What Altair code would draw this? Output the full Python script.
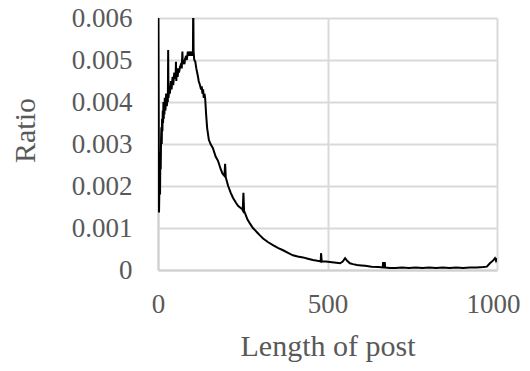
import altair as alt
import pandas as pd

# Rising part (length 1-60)
rise_len = [1, 3, 4, 5, 6, 7, 8, 9, 10, 11,
            12, 13, 14, 15, 16, 17, 18, 19, 20, 22,
            24, 26, 28, 29, 30, 31, 33, 35, 38, 40,
            43, 45, 48, 50, 52, 53, 54, 56, 58, 60]
rise_ratio = [0.0065, 0.00137, 0.0019, 0.0026, 0.0018, 0.0028, 0.0024, 0.0031, 0.0034, 0.0030,
              0.0036, 0.0033, 0.0038, 0.0035, 0.0040, 0.0036, 0.0039, 0.0037, 0.0041, 0.0038,
              0.0042, 0.0039, 0.0041, 0.0040, 0.00524, 0.0041, 0.0043, 0.0042, 0.0045, 0.0043,
              0.0046, 0.0044, 0.0047, 0.00456, 0.0046, 0.00496, 0.0045, 0.0048, 0.0046, 0.0048]

# Peak (length 62-155)
peak_len = [62, 65, 68, 70, 71, 72, 73, 75, 78, 80,
            83, 85, 88, 90, 93, 95, 98, 100, 102, 103,
            104, 105, 107, 110, 113, 115, 118, 120, 124, 127,
            129, 131, 133, 135, 137, 139, 142, 145, 150, 155]
peak_ratio = [0.0047, 0.00484, 0.0049, 0.0048, 0.0050, 0.0052, 0.0049, 0.0050, 0.0049, 0.00503,
              0.0051, 0.0050, 0.0052, 0.0051, 0.0052, 0.0051, 0.0052, 0.0051, 0.0052, 0.0051,
              0.0065, 0.0052, 0.0050, 0.00496, 0.0048, 0.00472, 0.0046, 0.0045, 0.0044, 0.0043,
              0.00437, 0.0042, 0.0043, 0.0041, 0.0042, 0.0041, 0.0037, 0.00338, 0.0031, 0.0030]

# Decay (length 162-483)
decay_len = [162, 170, 177, 185, 190, 196, 198, 200, 207, 214,
             221, 230, 236, 242, 248, 250, 252, 254, 257, 264,
             271, 280, 292, 300, 310, 325, 339, 355, 369, 385,
             398, 412, 428, 442, 457, 470, 478, 480, 481, 483]
decay_ratio = [0.0029, 0.0027, 0.0026, 0.0024, 0.0023, 0.00224, 0.00253, 0.0022, 0.0020, 0.00185,
               0.00172, 0.0016, 0.00153, 0.00149, 0.00145, 0.00142, 0.00184, 0.0014, 0.00135, 0.0012,
               0.00111, 0.0010, 0.0009, 0.00083, 0.00075, 0.00066, 0.00059, 0.00052, 0.00047, 0.0004,
               0.00035, 0.00032, 0.0003, 0.00027, 0.00024, 0.00022, 0.00021, 0.0002, 0.0004, 0.0002]

# Tail (length 495-1000)
tail_len = [495, 507, 520, 537, 545, 552, 558, 566, 575, 587,
            600, 611, 630, 650, 663, 664, 665, 668, 669, 670,
            684, 700, 720, 740, 760, 780, 800, 820, 840, 860,
            880, 900, 920, 940, 960, 970, 979, 985, 990, 994,
            997, 1000]
tail_ratio = [0.0002, 0.00019, 0.00018, 0.00016, 0.0002, 0.00028, 0.00022, 0.00016, 0.00014, 0.00012,
              0.00011, 0.0001, 0.00008, 0.00007, 0.00006, 0.00019, 0.00006, 0.00006, 0.00019, 0.00006,
              0.00005, 0.00005, 0.00006, 0.00005, 0.00006, 0.00005, 0.00006, 0.00005, 0.00006, 0.00005,
              0.00006, 0.00005, 0.00006, 0.00006, 0.00007, 0.00008, 0.00016, 0.0002, 0.00024, 0.00028,
              0.00022, 0.00028]

x_ticks = [0, 500, 1000]
y_ticks = [0, 0.001, 0.002, 0.003, 0.004, 0.005, 0.006]

df = pd.DataFrame({
    "Length of post": rise_len + peak_len + decay_len + tail_len,
    "Ratio": rise_ratio + peak_ratio + decay_ratio + tail_ratio,
})

FONT = "Liberation Serif"
GRAY = "#595959"

chart = alt.Chart(df).mark_line(color="black", strokeWidth=2, clip=True).encode(
    x=alt.X("Length of post:Q",
            scale=alt.Scale(domain=[0, 1000], nice=False),
            axis=alt.Axis(values=x_ticks, format="d", title="Length of post",
                          labelFontSize=27, titleFontSize=30, labelPadding=21,
                          labelFlush=False, labelOverlap=False,
                          labelOffset=alt.ExprRef("datum.value == 1000 ? -4 : 0"),
                          titleFontWeight="normal", titlePadding=14)),
    y=alt.Y("Ratio:Q",
            scale=alt.Scale(domain=[0, 0.006], nice=False),
            axis=alt.Axis(values=y_ticks, format="~g", title="Ratio",
                          labelFontSize=27, titleFontSize=30, labelPadding=26,
                          labelFlush=False, labelOverlap=False,
                          titleFontWeight="normal", titleX=-133, titleY=112,
                          titleAngle=-90, titleAlign="center", titleBaseline="middle")),
).properties(
    width=339, height=252,
    autosize=alt.AutoSizeParams(type="none"),
    padding={"left": 150, "top": 10, "right": 25, "bottom": 93},
).configure_axis(
    labelFont=FONT, titleFont=FONT, labelColor=GRAY, titleColor=GRAY,
    gridColor="#d9d9d9", gridWidth=2, domainColor="#d0d0d0", domainWidth=2,
    ticks=False,
).configure_view(stroke=None)

chart.save("out.html", embed_options={"renderer": "svg", "actions": False})
